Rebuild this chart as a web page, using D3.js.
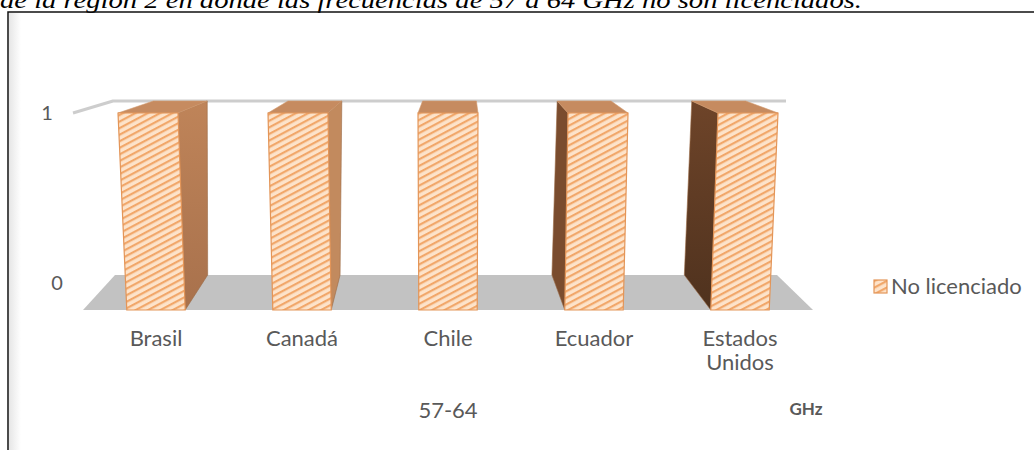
<!DOCTYPE html>
<html>
<head>
<meta charset="utf-8">
<script src="https://cdn.jsdelivr.net/npm/d3@7/dist/d3.min.js"></script>
<style>
  html, body { margin: 0; padding: 0; background: #fff; }
  svg { display: block; }
</style>
</head>
<body>
<svg id="chart" width="1034" height="450"></svg>
<script>
// ---- data ----
const categories = ["Brasil", "Canadá", "Chile", "Ecuador", "Estados Unidos"];
const values = [1, 1, 1, 1, 1];
const yTicks = [0, 1];
const seriesName = "No licenciado";
const groupLabel = "57-64";
const unitLabel = "GHz";
const caption = "de la región 2 en donde las frecuencias de 57 a 64 GHz no son licenciados.";

// ---- layout ----
const W = 1034, H = 450;
const svg = d3.select("#chart");

// corners of the 3D plot box (front / back planes, bottom / top)
const box = {
  f0L: [83, 310], f0R: [813, 310],
  f1L: [73, 113], f1R: [823, 113],
  b0L: [115, 275], b0R: [777, 275],
  b1L: [113, 101], b1R: [786, 101]
};
const lerp = (p, q, t) => [p[0] + (q[0] - p[0]) * t, p[1] + (q[1] - p[1]) * t];
// a: position across categories (0..1), v: value (0..1), z: depth (0 front .. 1 back)
function proj(a, v, z) {
  const f = lerp(lerp(box.f0L, box.f0R, a), lerp(box.f1L, box.f1R, a), v);
  const b = lerp(lerp(box.b0L, box.b0R, a), lerp(box.b1L, box.b1R, a), v);
  return lerp(f, b, z);
}

const x = d3.scaleBand().domain(categories).range([0, 1]).paddingInner(0.6).paddingOuter(0.3);
const y = d3.scaleLinear().domain([0, 1]).range([0, 1]);
const tickY = d3.scaleLinear().domain([0, 1]).range([283, 113]);
const tickX = d3.scaleLinear().domain([0, 1]).range([57, 47]);

const defs = svg.append("defs");

// diagonal hatch used on the bar fronts and legend key
const hatch = defs.append("pattern")
  .attr("id", "hatch")
  .attr("patternUnits", "userSpaceOnUse")
  .attr("width", 5.8).attr("height", 5.8)
  .attr("patternTransform", "rotate(62)");
hatch.append("rect").attr("width", 5.8).attr("height", 5.8).attr("fill", "#fde3ca");
hatch.append("rect").attr("width", 2.2).attr("height", 5.8).attr("fill", "#f1a76a");

const leftShade = defs.append("linearGradient").attr("id", "leftShade")
  .attr("x1", 0).attr("x2", 1).attr("y1", 0).attr("y2", 0);
leftShade.append("stop").attr("offset", 0).attr("stop-color", "#e6e6e6");
leftShade.append("stop").attr("offset", 1).attr("stop-color", "#ffffff");

const sideR = defs.append("linearGradient").attr("id", "sideR")
  .attr("x1", 0).attr("x2", 0).attr("y1", 0).attr("y2", 1);
sideR.append("stop").attr("offset", 0).attr("stop-color", "#bf8459");
sideR.append("stop").attr("offset", 1).attr("stop-color", "#a8714c");

const sideL = defs.append("linearGradient").attr("id", "sideL")
  .attr("x1", 0).attr("x2", 0).attr("y1", 0).attr("y2", 1);
sideL.append("stop").attr("offset", 0).attr("stop-color", "#6e4429");
sideL.append("stop").attr("offset", 1).attr("stop-color", "#4f321e");

// ---- caption and frame ----
svg.append("text")
  .attr("x", 0).attr("y", 8)
  .attr("font-family", "Liberation Serif, Times New Roman, serif")
  .attr("font-style", "italic")
  .attr("font-size", 24)
  .attr("fill", "#000")
  .attr("textLength", 862)
  .attr("lengthAdjust", "spacingAndGlyphs")
  .text(caption);

svg.append("rect").attr("x", 9).attr("y", 13).attr("width", 12).attr("height", H - 13)
  .attr("fill", "url(#leftShade)");
svg.append("path")
  .attr("d", `M8,${H} L8,12 L${W},12`)
  .attr("fill", "none").attr("stroke", "#111").attr("stroke-width", 1.5);

const line = d3.line();

// ---- floor ----
svg.append("path")
  .attr("d", line([proj(0, 0, 0), proj(1, 0, 0), proj(1, 0, 1), proj(0, 0, 1)]) + "Z")
  .attr("fill", "#c2c2c2");

// ---- gridline at the top tick (side wall edge + back wall) ----
svg.append("path")
  .attr("d", line([proj(0, y(1), 0), proj(0, y(1), 1), proj(1, y(1), 1)]))
  .attr("fill", "none").attr("stroke", "#cdcdcd").attr("stroke-width", 3)
  .attr("stroke-linejoin", "round");

const labelFont = "Lato, sans-serif";

// ---- value axis labels ----
svg.selectAll("text.tick").data(yTicks).join("text")
  .attr("class", "tick")
  .attr("x", d => tickX(d)).attr("y", d => tickY(d))
  .attr("dy", "0.35em")
  .attr("text-anchor", "middle")
  .attr("font-family", labelFont).attr("font-size", 20)
  .attr("fill", "#595959")
  .text(d => d);

// ---- bars ----
const sideColors = ["url(#sideR)", "#c28a5e", "#b98158", "#7a4c2e", "url(#sideL)"];
const bars = svg.append("g");
categories.forEach((c, i) => {
  const a0 = x(c), a1 = x(c) + x.bandwidth();
  const v = y(values[i]);
  const g = bars.append("g");
  const z0 = 0, z1 = 1;
  // side face: the one facing the centre of the chart
  const centre = (a0 + a1) / 2;
  const sideA = centre < 0.5 ? a1 : a0;
  const side = [proj(sideA, 0, z0), proj(sideA, v, z0), proj(sideA, v, z1), proj(sideA, 0, z1)];
  if (Math.abs(centre - 0.5) > 0.01) {
    g.append("path").attr("d", line(side) + "Z")
      .attr("fill", sideColors[i]).attr("stroke", "#9b6a45").attr("stroke-width", 0.6);
  }
  // top face
  g.append("path")
    .attr("d", line([proj(a0, v, z0), proj(a1, v, z0), proj(a1, v, z1), proj(a0, v, z1)]) + "Z")
    .attr("fill", "#c68b60").attr("stroke", "#d29a6e").attr("stroke-width", 0.6);
  // front face
  g.append("path")
    .attr("d", line([proj(a0, 0, z0), proj(a1, 0, z0), proj(a1, v, z0), proj(a0, v, z0)]) + "Z")
    .attr("fill", "url(#hatch)").attr("stroke", "#e39558").attr("stroke-width", 1.2);
});

// ---- category labels ----
categories.forEach(c => {
  const p = proj(x(c) + x.bandwidth() / 2, 0, 0);
  const words = c.split(" ");
  const t = svg.append("text")
    .attr("x", p[0]).attr("y", 346)
    .attr("text-anchor", "middle")
    .attr("font-family", labelFont).attr("font-size", 22)
    .attr("fill", "#595959");
  words.forEach((w, k) => {
    t.append("tspan").attr("x", p[0]).attr("dy", k === 0 ? 0 : 24).text(w);
  });
});

svg.append("text")
  .attr("x", proj(0.5, 0, 0)[0]).attr("y", 418)
  .attr("text-anchor", "middle")
  .attr("font-family", labelFont).attr("font-size", 22)
  .attr("fill", "#595959")
  .text(groupLabel);

svg.append("text")
  .attr("x", 806).attr("y", 415)
  .attr("text-anchor", "middle")
  .attr("font-family", labelFont).attr("font-size", 17).attr("font-weight", "bold")
  .attr("fill", "#595959")
  .text(unitLabel);

// ---- legend ----
const lg = svg.append("g").attr("transform", "translate(874,280)");
lg.append("rect").attr("width", 13).attr("height", 13)
  .attr("fill", "url(#hatch)").attr("stroke", "#e39558").attr("stroke-width", 1.2);
lg.append("text").attr("x", 17).attr("y", 6.5).attr("dy", "0.35em")
  .attr("font-family", labelFont).attr("font-size", 22)
  .attr("fill", "#595959")
  .text(seriesName);
</script>
</body>
</html>
